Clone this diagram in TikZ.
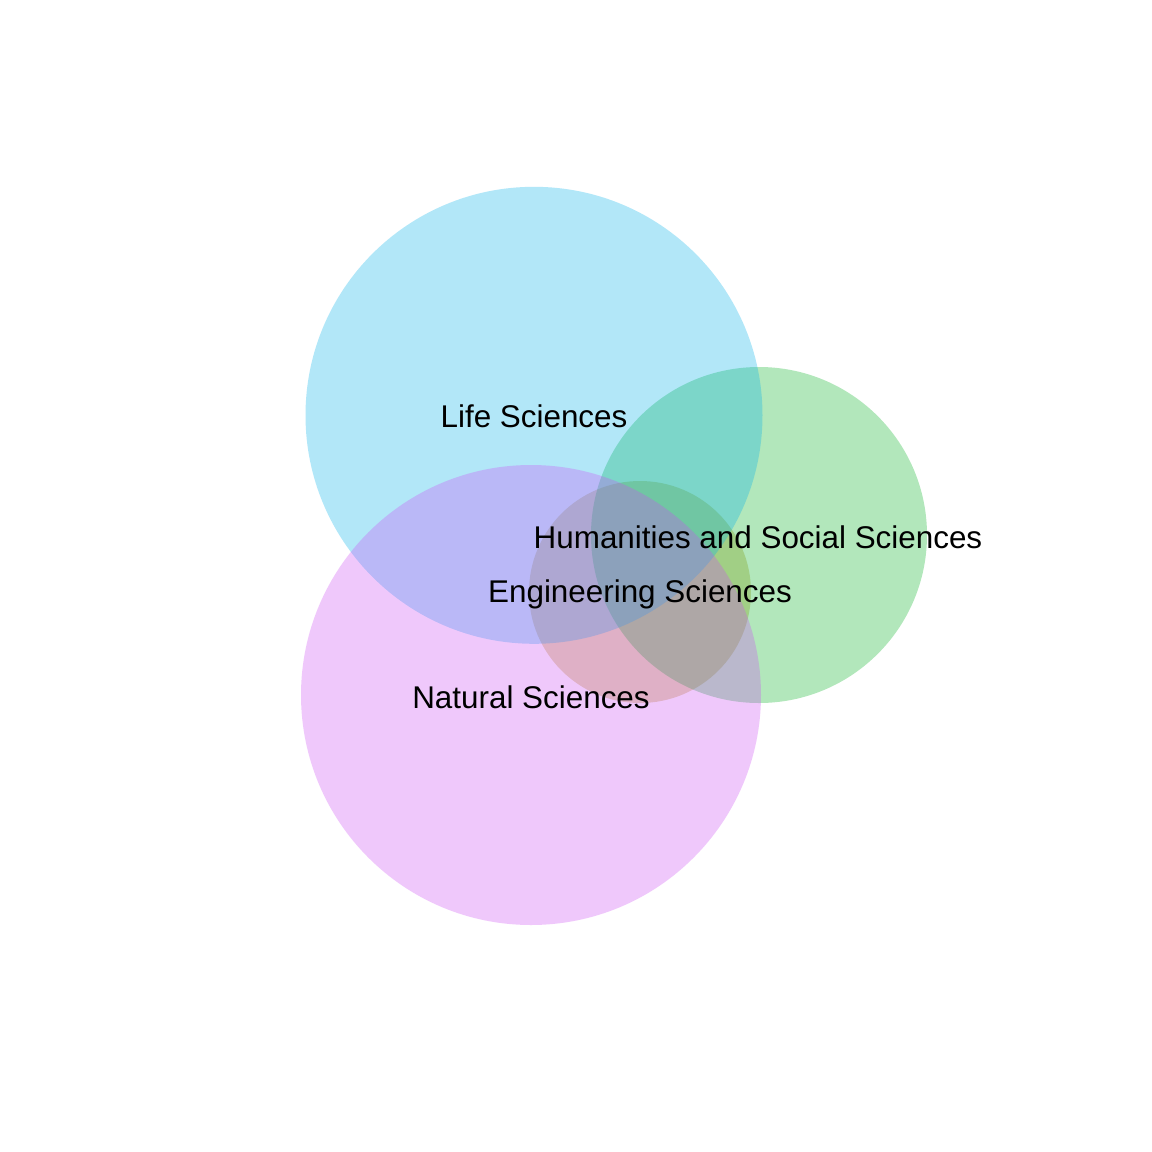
\documentclass[tikz,border=0pt]{standalone}
\usepackage{fontspec}
\setmainfont{Liberation Sans}
\definecolor{lifec}{RGB}{0,178,235}
\definecolor{natc}{RGB}{205,76,245}
\definecolor{humc}{RGB}{0,178,32}
\definecolor{engc}{RGB}{178,142,0}
\begin{document}
\begin{tikzpicture}[x=1pt,y=-1pt,
  setdisc/.style={circle, inner sep=0pt, draw=none, fill opacity=0.3},
  setlabel/.style={anchor=base, inner sep=0pt, font=\fontsize{31.4}{36}\selectfont}]
\useasboundingbox[fill=white] (0,0) rectangle (1152,1152);
% translucent set discs, bottom layer first
\node[setdisc, fill=engc, minimum size=222pt] (eng) at (640,592) {};
\node[setdisc, fill=humc, minimum size=336pt] (hum) at (759,535) {};
\node[setdisc, fill=lifec, minimum size=457pt] (life) at (534,415.3) {};
\node[setdisc, fill=natc, minimum size=460pt] (nat) at (531,695) {};
% set names
\node[setlabel] (lifelab) at (534,427) {Life Sciences};
\node[setlabel] (humlab) at (758,548) {Humanities and Social Sciences};
\node[setlabel] (englab) at (640,602) {Engineering Sciences};
\node[setlabel] (natlab) at (531,708) {Natural Sciences};
\end{tikzpicture}
\end{document}
